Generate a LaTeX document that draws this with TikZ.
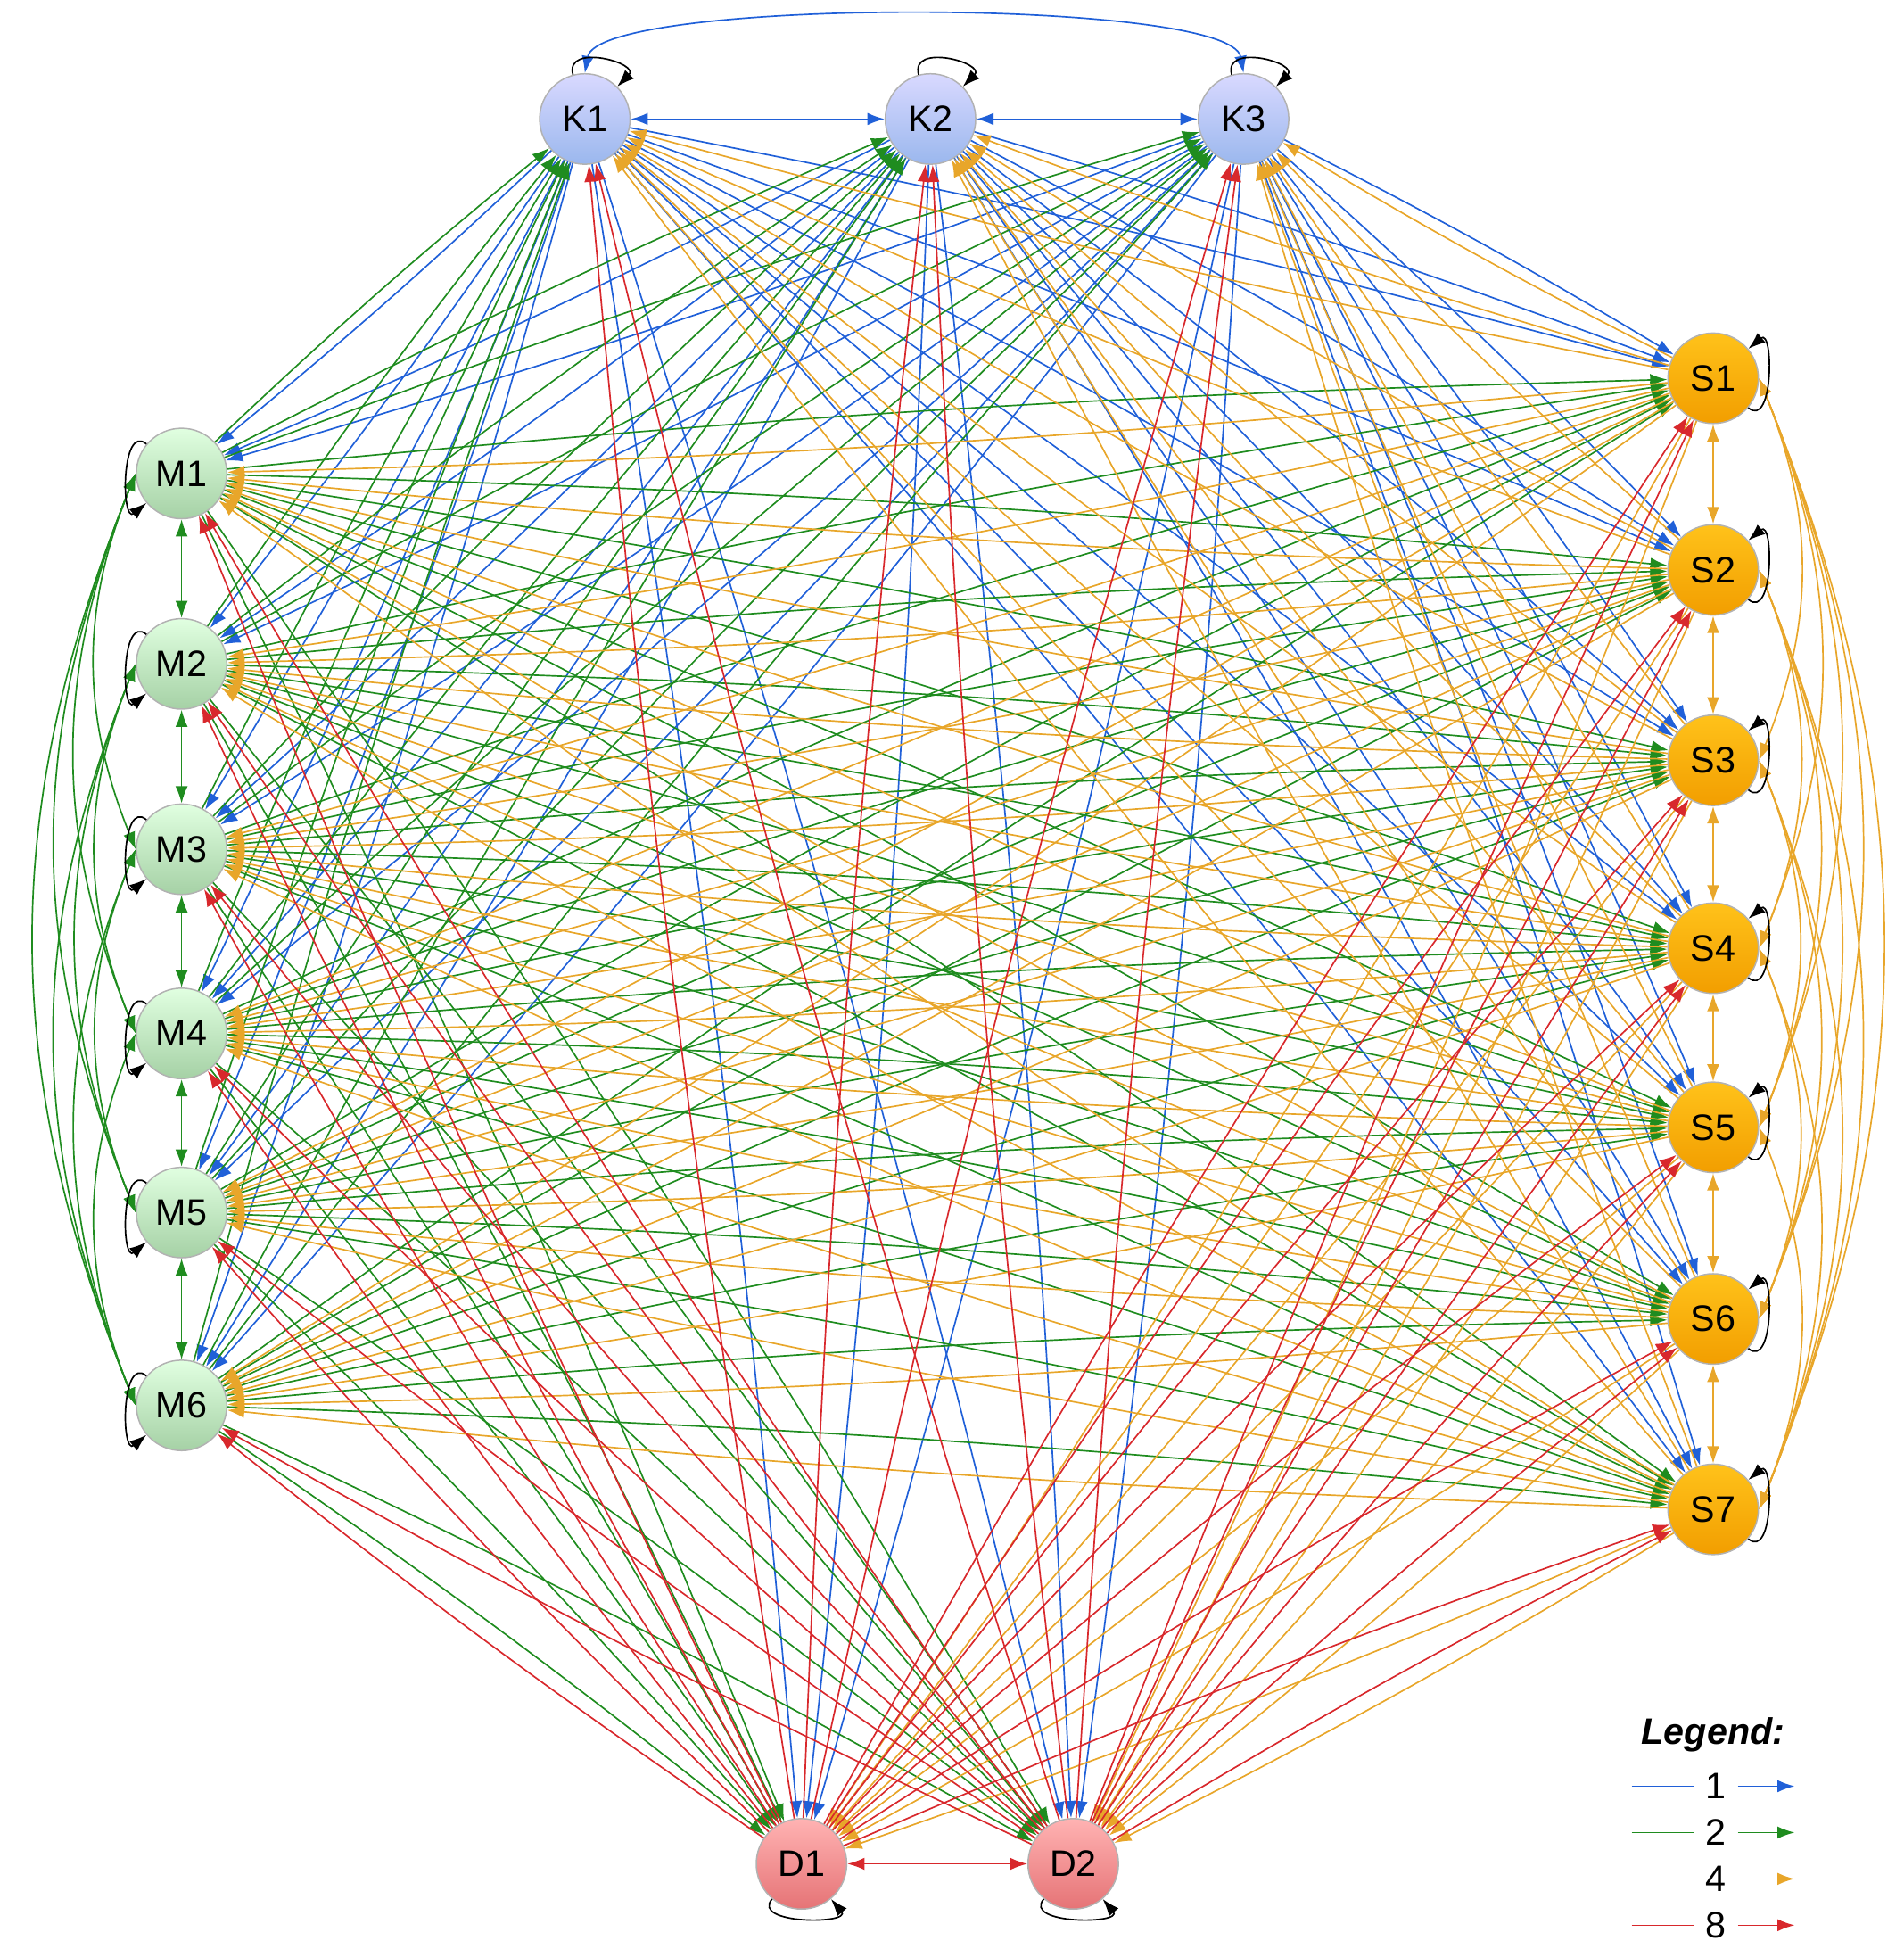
\documentclass[tikz,border=0pt]{standalone}
\usepackage{fontspec}
\setmainfont{Liberation Sans}
\usetikzlibrary{arrows.meta,positioning}

\definecolor{cblue}{HTML}{2060D8}
\definecolor{cgreen}{HTML}{1F8C1F}
\definecolor{corange}{HTML}{E8A62A}
\definecolor{cred}{HTML}{D8282C}
\definecolor{stop}{HTML}{FFC21A}
\definecolor{sbot}{HTML}{F29E00}

\begin{document}
\begin{tikzpicture}
	[x=0.01316cm,y=-0.01316cm,
	 %Styles
	 every node/.style={font=\fontsize{11}{13}\selectfont},
	 st_node/.style={circle,draw=black!30,minimum size=0.95cm,inner sep=0pt},
	 k_node/.style={st_node,top color=blue!15!white,bottom color=cblue!45!white},
	 m_node/.style={st_node,top color=green!12!white,bottom color=cgreen!40!white},
	 s_node/.style={st_node,top color=stop,bottom color=sbot},
	 d_node/.style={st_node,top color=red!30!white,bottom color=cred!65!white},
	 arr/.style={line width=0.45pt,-{Latex[length=1.8mm,width=1.3mm]}},
	 barr/.style={line width=0.45pt,{Latex[length=1.8mm,width=1.3mm]}-{Latex[length=1.8mm,width=1.3mm]}},
	 self_loop/.style={arr,black,looseness=1,min distance=3.5mm}
	]
	\useasboundingbox (0,0) rectangle (1520,1556);

	%Node placement
	\node (k1) [k_node] at (467,95) {K1};
	\node (k2) [k_node] at (743,95) {K2};
	\node (k3) [k_node] at (993,95) {K3};
	\foreach \i/\y in {1/378,2/530,3/678,4/825,5/968,6/1122}
		\node (m\i) [m_node] at (145,\y) {M\i};
	\foreach \i/\y in {1/302,2/455,3/607,4/757,5/900,6/1053,7/1205}
		\node (s\i) [s_node] at (1368,\y) {S\i};
	\node (d1) [d_node] at (640,1488) {D1};
	\node (d2) [d_node] at (857,1488) {D2};

	%Edges between groups
	\foreach \a in {k1,k2,k3}
		\foreach \b in {m1,m2,m3,m4,m5,m6,s1,s2,s3,s4,s5,s6,s7,d1,d2}
			\draw[arr,cblue] (\a) to[bend left=2] (\b);
	\foreach \a in {m1,m2,m3,m4,m5,m6}
		\foreach \b in {k1,k2,k3,s1,s2,s3,s4,s5,s6,s7,d1,d2}
			\draw[arr,cgreen] (\a) to[bend left=2] (\b);
	\foreach \a in {s1,s2,s3,s4,s5,s6,s7}
		\foreach \b in {k1,k2,k3,m1,m2,m3,m4,m5,m6,d1,d2}
			\draw[arr,corange] (\a) to[bend left=2] (\b);
	\foreach \a in {d1,d2}
		\foreach \b in {k1,k2,k3,m1,m2,m3,m4,m5,m6,s1,s2,s3,s4,s5,s6,s7}
			\draw[arr,cred] (\a) to[bend left=2] (\b);

	%Edges inside groups
	\draw[barr,cblue] (k1) -- (k2);
	\draw[barr,cblue] (k2) -- (k3);
	\draw[barr,cblue] (k1.north) to[out=80,in=100,looseness=0.3] (k3.north);
	\draw[barr,cred] (d1) -- (d2);
	\foreach \i in {1,...,5}{
		\pgfmathtruncatemacro\nx{\i+1}
		\draw[barr,cgreen] (m\i) -- (m\nx);
	}
	\foreach \i in {1,...,6}{
		\pgfmathtruncatemacro\nx{\i+1}
		\draw[barr,corange] (s\i) -- (s\nx);
	}
	\foreach \i in {1,...,4}{
		\pgfmathtruncatemacro\js{\i+2}
		\foreach \j in {\js,...,6}
			\draw[barr,cgreen] (m\i.west) to[bend right=22] (m\j.west);
	}
	\foreach \i in {1,...,5}{
		\pgfmathtruncatemacro\js{\i+2}
		\foreach \j in {\js,...,7}
			\draw[barr,corange] (s\i.east) to[bend left=22] (s\j.east);
	}

	%Self loops
	\foreach \a in {k1,k2,k3}
		\draw[self_loop] (\a) to[out=105,in=45] (\a);
	\foreach \a in {m1,m2,m3,m4,m5,m6}
		\draw[self_loop] (\a) to[out=140,in=220] (\a);
	\foreach \a in {s1,s2,s3,s4,s5,s6,s7}
		\draw[self_loop] (\a) to[out=-40,in=40] (\a);
	\foreach \a in {d1,d2}
		\draw[self_loop] (\a) to[out=-130,in=-50] (\a);

	%Legend
	\node (legend) at (1368,1385) {\textbf{\textit{Legend:}}};
	\foreach \n/\c/\y in {1/cblue/1426,2/cgreen/1463,4/corange/1500,8/cred/1537}{
		\node (lg\n) at (1370,\y) {\n};
		\coordinate (lga\n) at (1303,\y);
		\coordinate (lgb\n) at (1433,\y);
		\draw[line width=0.45pt,\c] (lga\n) -- (lg\n.west);
		\draw[arr,\c] (lg\n.east) -- (lgb\n);
	}
\end{tikzpicture}
\end{document}
